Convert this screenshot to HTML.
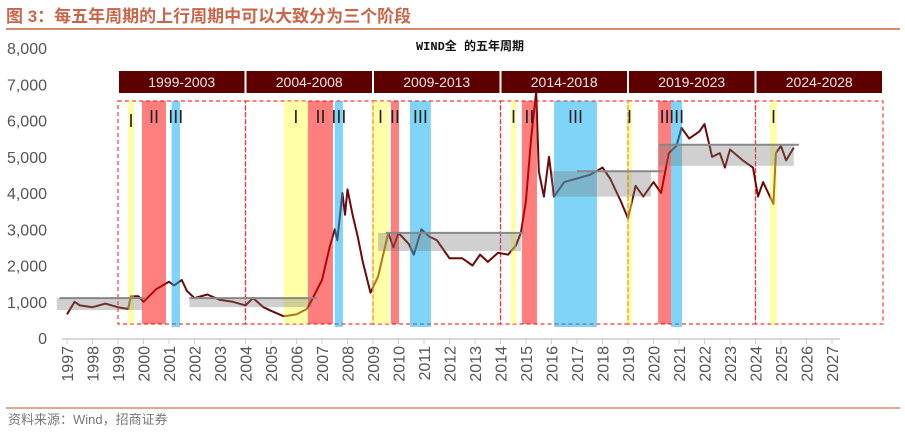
<!DOCTYPE html>
<html><head><meta charset="utf-8"><style>
body{margin:0;background:#fff;}
#wrap{position:relative;width:905px;height:437px;overflow:hidden;font-family:"Liberation Sans","Noto Sans CJK SC",sans-serif;}
</style></head><body>
<div id="wrap">
<svg id="svg" width="905" height="437" viewBox="0 0 905 437" xmlns="http://www.w3.org/2000/svg">
<text x="6" y="22" font-size="17" font-weight="bold" fill="#c8664a" font-family="Liberation Sans,Noto Sans CJK SC,sans-serif">图 3：每五年周期的上行周期中可以大致分为三个阶段</text>
<line x1="6" y1="29" x2="900" y2="29" stroke="#d68a70" stroke-width="2"/>
<text x="470" y="50" font-size="12" font-weight="bold" text-anchor="middle" fill="#111" font-family="Liberation Mono,Noto Sans CJK SC,monospace">WIND全 的五年周期</text>
<g id="yaxis"></g>
<g id="xaxis"></g>
<g id="boxes"></g>
<g id="line"></g>
<g id="bands"></g>
<g id="ranges"></g>
<g id="headers"></g>
<line x1="6" y1="408" x2="900" y2="408" stroke="#d68a70" stroke-width="1.5"/>
<text x="8" y="424" font-size="13" fill="#777">资料来源：Wind，招商证券</text>
</svg>
</div>
<script>
const yTicks=[0,1000,2000,3000,4000,5000,6000,7000,8000];
const xYears=[1997,1998,1999,2000,2001,2002,2003,2004,2005,2006,2007,2008,2009,2010,2011,2012,2013,2014,2015,2016,2017,2018,2019,2020,2021,2022,2023,2024,2025,2026,2027];
const dates=[1997.0,1997.3,1997.5,1998.0,1998.5,1999.0,1999.4,1999.5,1999.8,2000.0,2000.5,2001.0,2001.2,2001.5,2001.7,2002.0,2002.5,2003.0,2003.5,2004.0,2004.3,2004.7,2005.0,2005.5,2006.0,2006.4,2006.6,2007.0,2007.3,2007.5,2007.6,2007.8,2007.9,2008.0,2008.2,2008.4,2008.6,2008.9,2009.2,2009.6,2009.8,2010.0,2010.4,2010.6,2010.9,2011.2,2011.5,2011.8,2012.0,2012.5,2012.9,2013.2,2013.5,2013.9,2014.3,2014.6,2014.8,2015.0,2015.2,2015.4,2015.5,2015.7,2015.9,2016.1,2016.5,2017.0,2017.5,2018.0,2018.3,2018.7,2019.0,2019.3,2019.6,2020.0,2020.3,2020.6,2020.9,2021.1,2021.4,2021.8,2022.0,2022.3,2022.6,2022.8,2023.0,2023.5,2023.9,2024.1,2024.3,2024.7,2024.8,2025.0,2025.2,2025.5];
const values=[650,1000,900,850,950,850,800,1150,1150,1000,1350,1550,1450,1600,1300,1100,1200,1050,1000,900,1100,850,750,600,650,800,1050,1600,2500,3000,2700,4000,3400,4100,3400,2800,2100,1250,1700,2900,2500,2900,2600,2300,3000,2800,2700,2400,2200,2200,2000,2300,2100,2350,2300,2550,2900,3800,5500,6800,4600,3900,5000,3900,4300,4400,4500,4700,4400,3800,3300,4200,3900,4300,4000,5100,5300,5800,5500,5700,5900,5000,5100,4700,5200,4900,4700,3900,4300,3700,5100,5300,4900,5250];
const bandStart=[1999.39,1999.94,2001.1,2005.5,2006.45,2007.5,2008.96,2009.7,2010.45,2014.41,2014.84,2016.1,2018.96,2020.18,2020.69,2024.57];
const bandEnd=[1999.63,2000.88,2001.43,2006.45,2007.43,2007.82,2009.63,2010.02,2011.27,2014.61,2015.43,2017.78,2019.16,2020.69,2021.12,2024.84];
const bandStage=[1,2,3,1,2,3,1,2,3,1,2,3,1,2,3,1];
const cycleLabels=['1999-2003','2004-2008','2009-2013','2014-2018','2019-2023','2024-2028'];
const cycleStart=[1999.0,2004.0,2009.0,2014.0,2019.0,2024.0];
const rangeStart=[1996.6,2001.8,2009.2,2016.0,2020.2];
const rangeEnd=[1999.95,2006.6,2014.8,2019.9,2025.5];
const rangeLow=[770,850,2400,3900,4750];
const rangeHigh=[1100,1100,2900,4600,5330];
const lineStart=[1996.7,2001.8,2009.5,2017.0,2020.2];
const lineEnd=[2000.1,2006.8,2014.9,2020.4,2025.7];

const NS='http://www.w3.org/2000/svg';
const X=y=>67+(y-1997)*25.5;
const Y=v=>338-v*0.03625;
function mk(tag,attrs,parent){const e=document.createElementNS(NS,tag);for(const k in attrs)e.setAttribute(k,attrs[k]);document.getElementById(parent).appendChild(e);return e;}

yTicks.forEach(v=>{const t=mk('text',{x:47,y:Y(v)+6,'font-size':16,fill:'#555','text-anchor':'end'},'yaxis');t.textContent=v.toLocaleString('en-US');

});
const ax=mk('line',{x1:62,y1:339,x2:840,y2:339,stroke:'#ccc','stroke-width':1.5},'xaxis');


xYears.forEach(yr=>{const x=X(yr);mk('line',{x1:x,y1:339,x2:x,y2:344,stroke:'#ccc'},'xaxis');
const t=mk('text',{x:0,y:0,'font-size':16,fill:'#555','text-anchor':'end',transform:`translate(${x+6},${346}) rotate(-90)`},'xaxis');t.textContent=yr;

});

cycleStart.forEach((s,i)=>{const x1=X(s),x2=X(s+5);
const r=mk('rect',{x:x1,y:101,width:x2-x1,height:223,fill:'none',stroke:'#f33','stroke-width':1.2,'stroke-dasharray':'4,3'},'boxes');


const h=mk('rect',{x:x1+1,y:71,width:x2-x1-2,height:22,fill:'#5e0000'},'headers');


const t=mk('text',{x:(x1+x2)/2,y:87,'font-size':14,fill:'#f2e6e6','text-anchor':'middle'},'headers');t.textContent=cycleLabels[i];

});

let d='';dates.forEach((dt,i)=>{d+=(i?'L':'M')+X(dt).toFixed(1)+','+Y(values[i]).toFixed(1);});
const p=mk('path',{d:d,fill:'none',stroke:'#6b0a0a','stroke-width':2,'stroke-linejoin':'round'},'line');



const bc=['','rgba(255,255,60,0.45)','rgba(255,0,0,0.5)','rgba(0,170,240,0.5)'];
const sl=['','I','II','III'];
bandStart.forEach((s,i)=>{const x1=X(s),x2=X(bandEnd[i]);const st=bandStage[i];
const r=mk('rect',{x:x1,y:101,width:x2-x1,height:st==3?226:223,fill:bc[st]},'bands');


const t=mk('text',{x:(x1+x2)/2,y:st==1&&i==0?127:123,'font-size':18,fill:'#222','text-anchor':'middle','font-family':'Liberation Sans Narrow,Liberation Sans,sans-serif'},'bands');t.textContent=sl[st];

});

rangeStart.forEach((s,i)=>{const r=mk('rect',{x:X(s),y:Y(rangeHigh[i]),width:X(rangeEnd[i])-X(s),height:Y(rangeLow[i])-Y(rangeHigh[i]),fill:'rgba(120,120,120,0.35)'},'ranges');


const l=mk('line',{x1:X(lineStart[i]),x2:X(lineEnd[i]),y1:Y(rangeHigh[i]),y2:Y(rangeHigh[i]),stroke:'#888','stroke-width':2},'ranges');

});
</script>
</body></html>
